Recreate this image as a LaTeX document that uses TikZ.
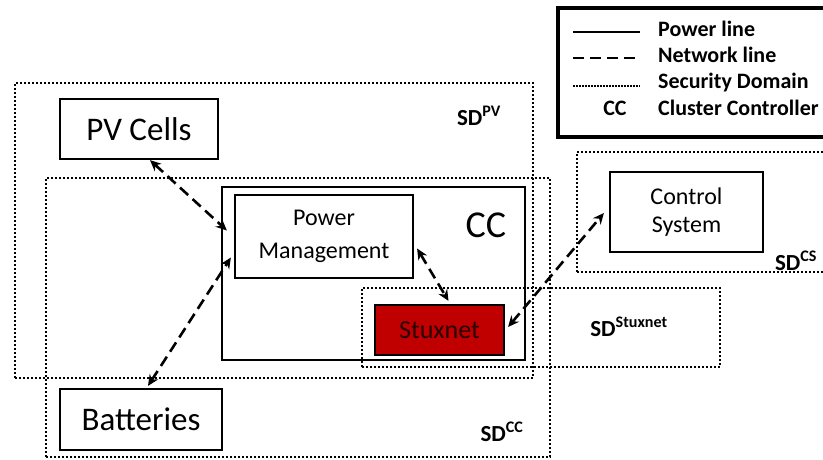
\documentclass[tikz,border=0pt]{standalone}
\usepackage{fontspec}
\setmainfont{Carlito}
\usepackage{tikz}
\usetikzlibrary{arrows.meta, positioning}
\definecolor{stuxred}{RGB}{192, 0, 0}
\definecolor{stuxtext}{RGB}{40, 0, 0}
\tikzstyle{block} = [rectangle, draw=black, line width=2.2pt, text centered, align=center, inner sep=0pt]
\tikzstyle{sdbox} = [rectangle, draw=black, line width=2.6pt, dash pattern=on 2pt off 2pt, inner sep=0pt]
\tikzstyle{sdlabel} = [font=\fontsize{23}{26}\selectfont\bfseries, inner sep=0pt]
\tikzstyle{legtext} = [font=\fontsize{22}{24}\selectfont\bfseries, inner sep=0pt]
\tikzstyle{netline} = [line width=2.6pt, dash pattern=on 11pt off 6pt, <->, >={Stealth[length=11pt, width=10pt]}]

\begin{document}
\begin{tikzpicture}[x=1pt, y=-1pt]
    \clip (0,0) rectangle (823,459);
    \useasboundingbox (0,0) rectangle (823,459);

    % Security domains
    \node[sdbox, minimum width=518pt, minimum height=295pt] (sdpv) at (274, 230.5) {};
    \node[sdbox, minimum width=504pt, minimum height=279pt] (sdcc) at (298, 317.5) {};
    \node[sdbox, minimum width=358pt, minimum height=79pt] (sdstux) at (541, 327.5) {};
    \node[sdbox, minimum width=263pt, minimum height=120pt] (sdcs) at (708.5, 212) {};

    \node[sdlabel] (sdpvlbl) at (479, 116) {SD\textsuperscript{PV}};
    \node[sdlabel] (sdcclbl) at (502, 432) {SD\textsuperscript{CC}};
    \node[sdlabel] (sdstuxlbl) at (629, 327) {SD\textsuperscript{Stuxnet}};
    \node[sdlabel] (sdcslbl) at (796, 261) {SD\textsuperscript{CS}};

    % Cluster controller
    \node[block, minimum width=303pt, minimum height=173pt] (cc) at (373.5, 273.5) {};
    \node[font=\fontsize{38}{40}\selectfont, inner sep=0pt] (cclbl) at (486, 225) {CC};
    \node[block, minimum width=178pt, minimum height=83pt, font=\fontsize{24}{33}\selectfont] (pm) at (324, 236.5) {Power\\Management};
    \node[block, fill=stuxred, minimum width=129pt, minimum height=50pt, font=\fontsize{26}{28}\selectfont, text=stuxtext] (stux) at (439.5, 330) {Stuxnet};

    % Other components
    \node[block, minimum width=158pt, minimum height=60pt, font=\fontsize{33}{36}\selectfont] (pv) at (139, 129) {PV Cells};
    \node[block, minimum width=162pt, minimum height=61pt, font=\fontsize{33}{36}\selectfont] (bat) at (141, 419.5) {Batteries};
    \node[block, minimum width=153pt, minimum height=80pt, font=\fontsize{24}{28}\selectfont] (cs) at (686.5, 212) {Control\\System};

    % Network links
    \draw[netline] ([xshift=11pt]pv.south) -- ([xshift=-7pt, yshift=6pt]pm.west);
    \draw[netline] ([xshift=7pt, yshift=2pt]bat.north) -- ([xshift=-3pt, yshift=-21pt]pm.west);
    \draw[netline] ([xshift=3pt, yshift=-12pt]pm.east) -- ([xshift=9pt, yshift=3pt]stux.north);
    \draw[netline] ([xshift=3pt, yshift=3pt]stux.east) -- ([xshift=-5pt, yshift=-1pt]cs.west);

    % Legend
    \node[draw, line width=3.5pt, minimum width=272pt, minimum height=129pt] (legend) at (694, 72.5) {};
    \coordinate (pwa) at (573, 32);
    \coordinate (pwb) at (640, 32);
    \coordinate (nwa) at (573, 58);
    \coordinate (nwb) at (640, 58);
    \coordinate (sda) at (573, 86);
    \coordinate (sdb) at (640, 86);
    \draw[line width=2.2pt] (pwa) -- (pwb);
    \draw[line width=2.2pt, dash pattern=on 11pt off 6pt] (nwa) -- (nwb);
    \draw[line width=1.8pt, dash pattern=on 1.5pt off 1.5pt] (sda) -- (sdb);
    \node[legtext, anchor=base west] (pwtxt) at (658, 36) {Power line};
    \node[legtext, anchor=base west] (nwtxt) at (658, 62) {Network line};
    \node[legtext, anchor=base west] (sdtxt) at (658, 88.5) {Security Domain};
    \node[legtext, anchor=base] (ccabbr) at (615, 115) {CC};
    \node[legtext, anchor=base west] (cctxt) at (658, 115) {Cluster Controller};
\end{tikzpicture}
\end{document}
